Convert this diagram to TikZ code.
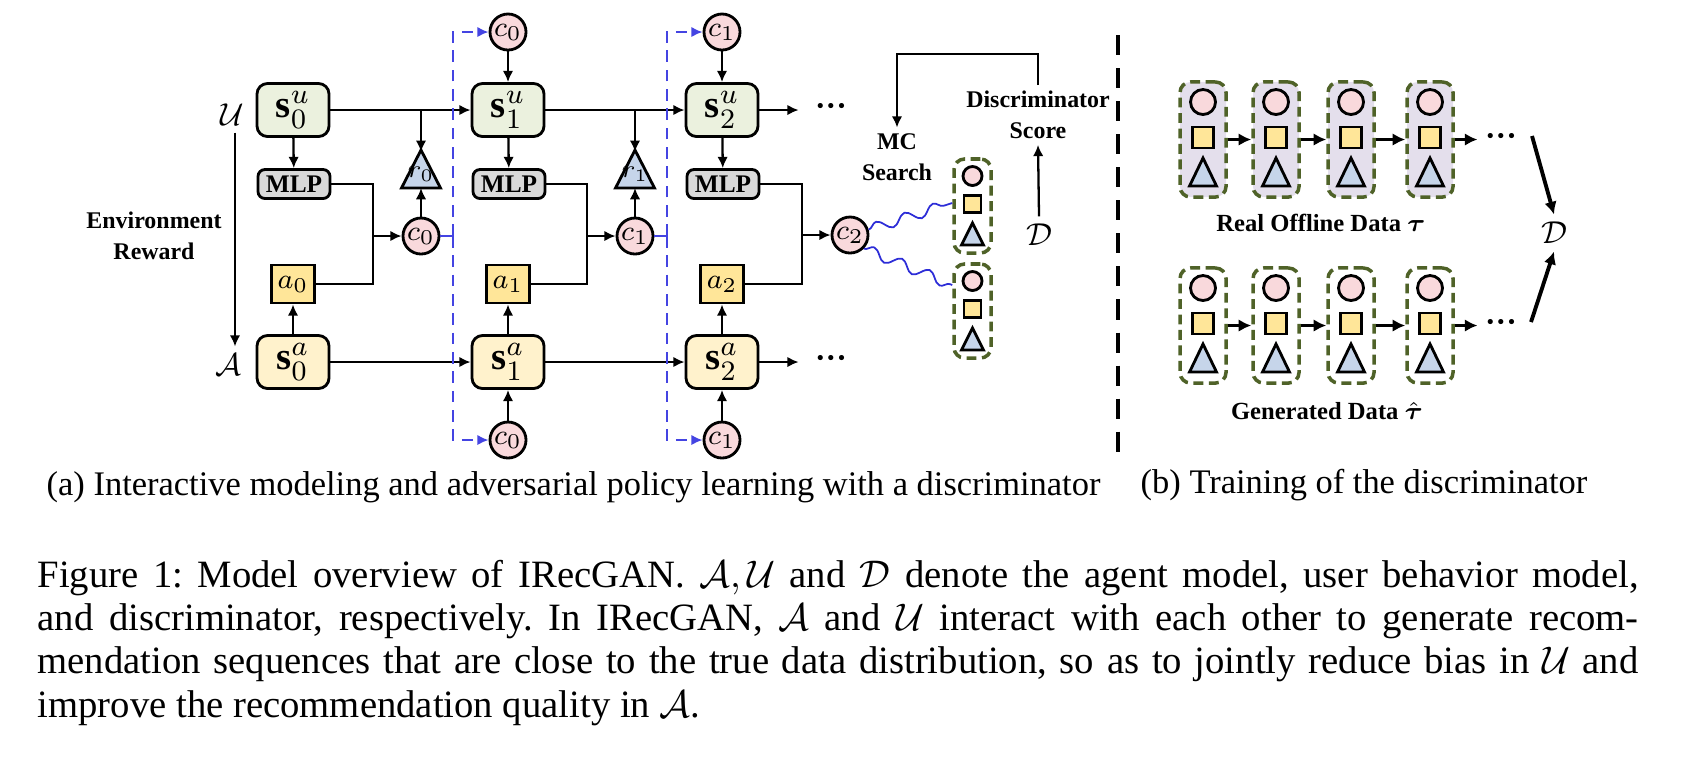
\documentclass[tikz,border=0pt]{standalone}
\usepackage{amsmath}
\usepackage{fontspec}
\setmainfont{Liberation Serif}
\usetikzlibrary{arrows.meta,decorations.pathmorphing,calc}
\definecolor{sugreen}{RGB}{235,241,222}
\definecolor{sayellow}{RGB}{255,242,204}
\definecolor{mlpgrey}{RGB}{217,217,217}
\definecolor{actyellow}{RGB}{255,230,153}
\definecolor{ctxpink}{RGB}{249,217,220}
\definecolor{rewblue}{RGB}{198,213,234}
\definecolor{dashblue}{RGB}{68,68,226}
\definecolor{wavyblue}{RGB}{45,45,215}
\definecolor{grpgreen}{RGB}{79,98,40}
\definecolor{realfill}{RGB}{228,223,236}
\begin{document}
\begin{tikzpicture}[x=0.01cm,y=-0.01cm,>={Latex[length=3.2pt,width=3pt]},
  every node/.style={inner sep=0pt},
  sbox/.style={draw,line width=0.8pt,rounded corners=3pt,minimum width=0.72cm,minimum height=0.53cm,font=\fontsize{11}{11}\selectfont},
  su/.style={sbox,fill=sugreen},
  sa/.style={sbox,fill=sayellow},
  mlpbox/.style={draw,line width=0.8pt,rounded corners=2pt,fill=mlpgrey,minimum width=0.72cm,minimum height=0.29cm,font=\bfseries\fontsize{7.2}{7.2}\selectfont},
  actbox/.style={draw,line width=0.8pt,fill=actyellow,minimum width=0.43cm,minimum height=0.38cm,font=\fontsize{8.5}{8.5}\selectfont},
  ctx/.style={circle,draw,line width=0.8pt,fill=ctxpink,minimum size=0.36cm,font=\fontsize{8.5}{8.5}\selectfont},
  tri/.style={draw,line width=0.8pt,fill=rewblue,line join=miter},
  flow/.style={->,line width=0.65pt},
  link/.style={line width=0.65pt},
  bluedash/.style={draw=dashblue,line width=0.8pt,dash pattern=on 3.3pt off 2.2pt},
  wavy/.style={draw=wavyblue,line width=0.5pt,decorate,decoration={snake,amplitude=1.5pt,segment length=8.5pt}},
  lbl/.style={font=\bfseries\fontsize{6.8}{8.8}\selectfont,align=center,inner sep=1.5pt},
  dots/.style={font=\bfseries\fontsize{9}{9}\selectfont,inner xsep=4.5pt},
  grp/.style={draw=grpgreen,line width=1pt,dash pattern=on 2.8pt off 1.6pt,rounded corners=3pt},
  itemc/.style={circle,draw,line width=0.8pt,fill=ctxpink},
  items/.style={draw,line width=0.8pt,fill=actyellow},
  bigflow/.style={->,line width=1.1pt,>={Latex[length=3.6pt,width=3.6pt]}},
  captext/.style={anchor=base west,font=\frenchspacing\fontsize{11}{11}\selectfont}]
\useasboundingbox (0,0) rectangle (1689,756);
%states, mlp and actions
\foreach \i/\x in {0/293,1/508,2/722} {
  \node[su] (su\i) at (\x,110) {$\mathbf{s}_{\i}^{u}$};
  \node[mlpbox] (mlp\i) at (\x+1,184) {MLP};
  \node[actbox] (act\i) at (\x,284) {$a_{\i}$};
  \node[sa] (sa\i) at (\x,362) {$\mathbf{s}_{\i}^{a}$};
  \draw[flow] (su\i) -- (mlp\i);
  \draw[flow] (sa\i) -- (act\i);
}
%user and agent
\node[font=\fontsize{9.5}{9.5}\selectfont] (user) at (232,115) {$\mathcal{U}$};
\node[font=\fontsize{9.5}{9.5}\selectfont] (agent) at (228,365) {$\mathcal{A}$};
\draw[flow] ($(user.south)+(3,6)$) -- ($(agent.north)+(7,-7)$);
\node[lbl] (envrew) at (154,236) {Environment\\Reward};
%context and reward
\foreach \i/\x/\j in {0/421/1,1/635/2} {
  \node[ctx] (ctx\i) at (\x,236) {$c_{\i}$};
  \coordinate (rtop\i) at (\x,150);
  \coordinate (rbase\i) at (\x,188);
  \draw[tri] (\x-19.5,188) -- (rtop\i) -- (\x+19.5,188) -- cycle;
  \node[font=\fontsize{7}{7}\selectfont] (rlab\i) at (\x,174) {$r_{\i}$};
  \coordinate (br\i) at (rtop\i |- su\i.east);
  \coordinate (jn\i) at (\x-48,236);
  \coordinate (vd\i) at (\x+32,236);
  \node[ctx] (ctop\j) at (\x+87,32) {$c_{\i}$};
  \node[ctx] (cbot\j) at (\x+87,440) {$c_{\i}$};
  \draw[flow] (su\i) -- (su\j);
  \draw[flow] (sa\i) -- (sa\j);
  \draw[flow,shorten >=-0.5pt] (br\i) -- (rtop\i);
  \draw[flow] (ctx\i) -- (rbase\i);
  \draw[link] (mlp\i.east) -| (jn\i) |- (act\i.east);
  \draw[flow] (jn\i) -- (ctx\i);
  \draw[bluedash] (ctx\i) -- (vd\i);
  \draw[bluedash,->] (vd\i) |- (ctop\j);
  \draw[bluedash,->] (vd\i) |- (cbot\j);
  \draw[flow] (ctop\j) -- (su\j);
  \draw[flow] (cbot\j) -- (sa\j);
}
%last step
\node[ctx] (ctx2) at (850,235) {$c_{2}$};
\coordinate (jn2) at (802,235);
\draw[link] (mlp2.east) -| (jn2) |- (act2.east);
\draw[flow] (jn2) -- (ctx2);
\node[dots] (dotsu) at (831,110) {···};
\node[dots] (dotsa) at (831,362) {···};
\draw[flow] (su2) -- (dotsu);
\draw[flow] (sa2) -- (dotsa);
%mc search samples
\foreach \k/\yc in {A/206,B/311} {
  \node[grp,minimum width=0.37cm,minimum height=0.94cm] (smp\k) at (972.5,\yc) {};
  \node[itemc,minimum size=0.19cm] (smpc\k) at (972.5,\yc-30) {};
  \node[items,minimum size=0.17cm] (smps\k) at (972.5,\yc-2) {};
  \draw[tri] (961.5,\yc+39) -- (972.5,\yc+17) -- (983.5,\yc+39) -- cycle;
}
\draw[wavy] (ctx2.16) -- ($(smpA.west)+(0,-3)$);
\draw[wavy] (ctx2.-45) -- ($(smpB.west)+(0,-26)$);
\node[lbl] (mcs) at (897,157) {MC\\Search};
\node[lbl] (disc) at (1038,115) {Discriminator\\Score};
\node[font=\fontsize{9.5}{9.5}\selectfont,inner sep=2pt] (dmid) at (1039,235) {$\mathcal{D}$};
\draw[flow] (disc.north) -- ++(0,-31) -| (mcs.north);
\draw[flow] (dmid.north) -- (disc.south);
%separator
\draw[line width=1.4pt,dash pattern=on 5.7pt off 3.7pt] (1118,35) -- (1118,452);
%training of the discriminator
\foreach \row/\yc/\fillc in {real/139.5/realfill,gen/325.5/white} {
  \foreach \i/\xc in {1/1203,2/1276,3/1351,4/1430} {
    \node[grp,fill=\fillc,minimum width=0.46cm,minimum height=1.15cm] (\row\i) at (\xc,\yc) {};
    \node[itemc,minimum size=0.25cm] (\row c\i) at (\xc,\yc-37.5) {};
    \node[items,minimum size=0.21cm] (\row s\i) at (\xc,\yc-2) {};
    \draw[tri] (\xc-13.5,\yc+46.5) -- (\xc,\yc+18.5) -- (\xc+13.5,\yc+46.5) -- cycle;
  }
  \foreach \i/\j in {1/2,2/3,3/4}
    \draw[bigflow] (\row\i) -- (\row\j);
  \node[dots,inner xsep=2pt] (\row dots) at (1501,\yc) {···};
  \draw[bigflow] (\row4) -- (\row dots);
}
\node[lbl,font=\bfseries\fontsize{7}{7}\selectfont] (reallbl) at (1321,223) {Real Offline Data $\boldsymbol{\tau}$};
\node[lbl,font=\bfseries\fontsize{7}{7}\selectfont] (genlbl) at (1327,411) {Generated Data $\hat{\boldsymbol{\tau}}$};
\node[font=\fontsize{9.5}{9.5}\selectfont,inner sep=2pt] (dright) at (1554,233) {$\mathcal{D}$};
\coordinate (realout) at (1532,136);
\coordinate (genout) at (1531,322);
\draw[bigflow] (realout) -- (dright.north);
\draw[bigflow] (genout) -- (dright.south);
%captions
\node[anchor=base west,font=\fontsize{9.8}{9.8}\selectfont] (capa) at (46,495) {(a) Interactive modeling and adversarial policy learning with a discriminator};
\node[anchor=base west,font=\fontsize{9.8}{9.8}\selectfont] (capb) at (1140,493) {(b) Training of the discriminator};
\node[captext] (fig1) at (37,587) {\makebox[16cm][s]{Figure 1: Model overview of IRecGAN. $\mathcal{A},\mathcal{U}$ and $\mathcal{D}$ denote the agent model, user behavior model,}};
\node[captext] (fig2) at (37,630) {\makebox[16cm][s]{and discriminator, respectively. In IRecGAN, $\mathcal{A}$ and $\mathcal{U}$ interact with each other to generate recom-}};
\node[captext] (fig3) at (37,673) {\makebox[16cm][s]{mendation sequences that are close to the true data distribution, so as to jointly reduce bias in $\mathcal{U}$ and}};
\node[captext] (fig4) at (37,717) {improve the recommendation quality in $\mathcal{A}$.};
\end{tikzpicture}
\end{document}
